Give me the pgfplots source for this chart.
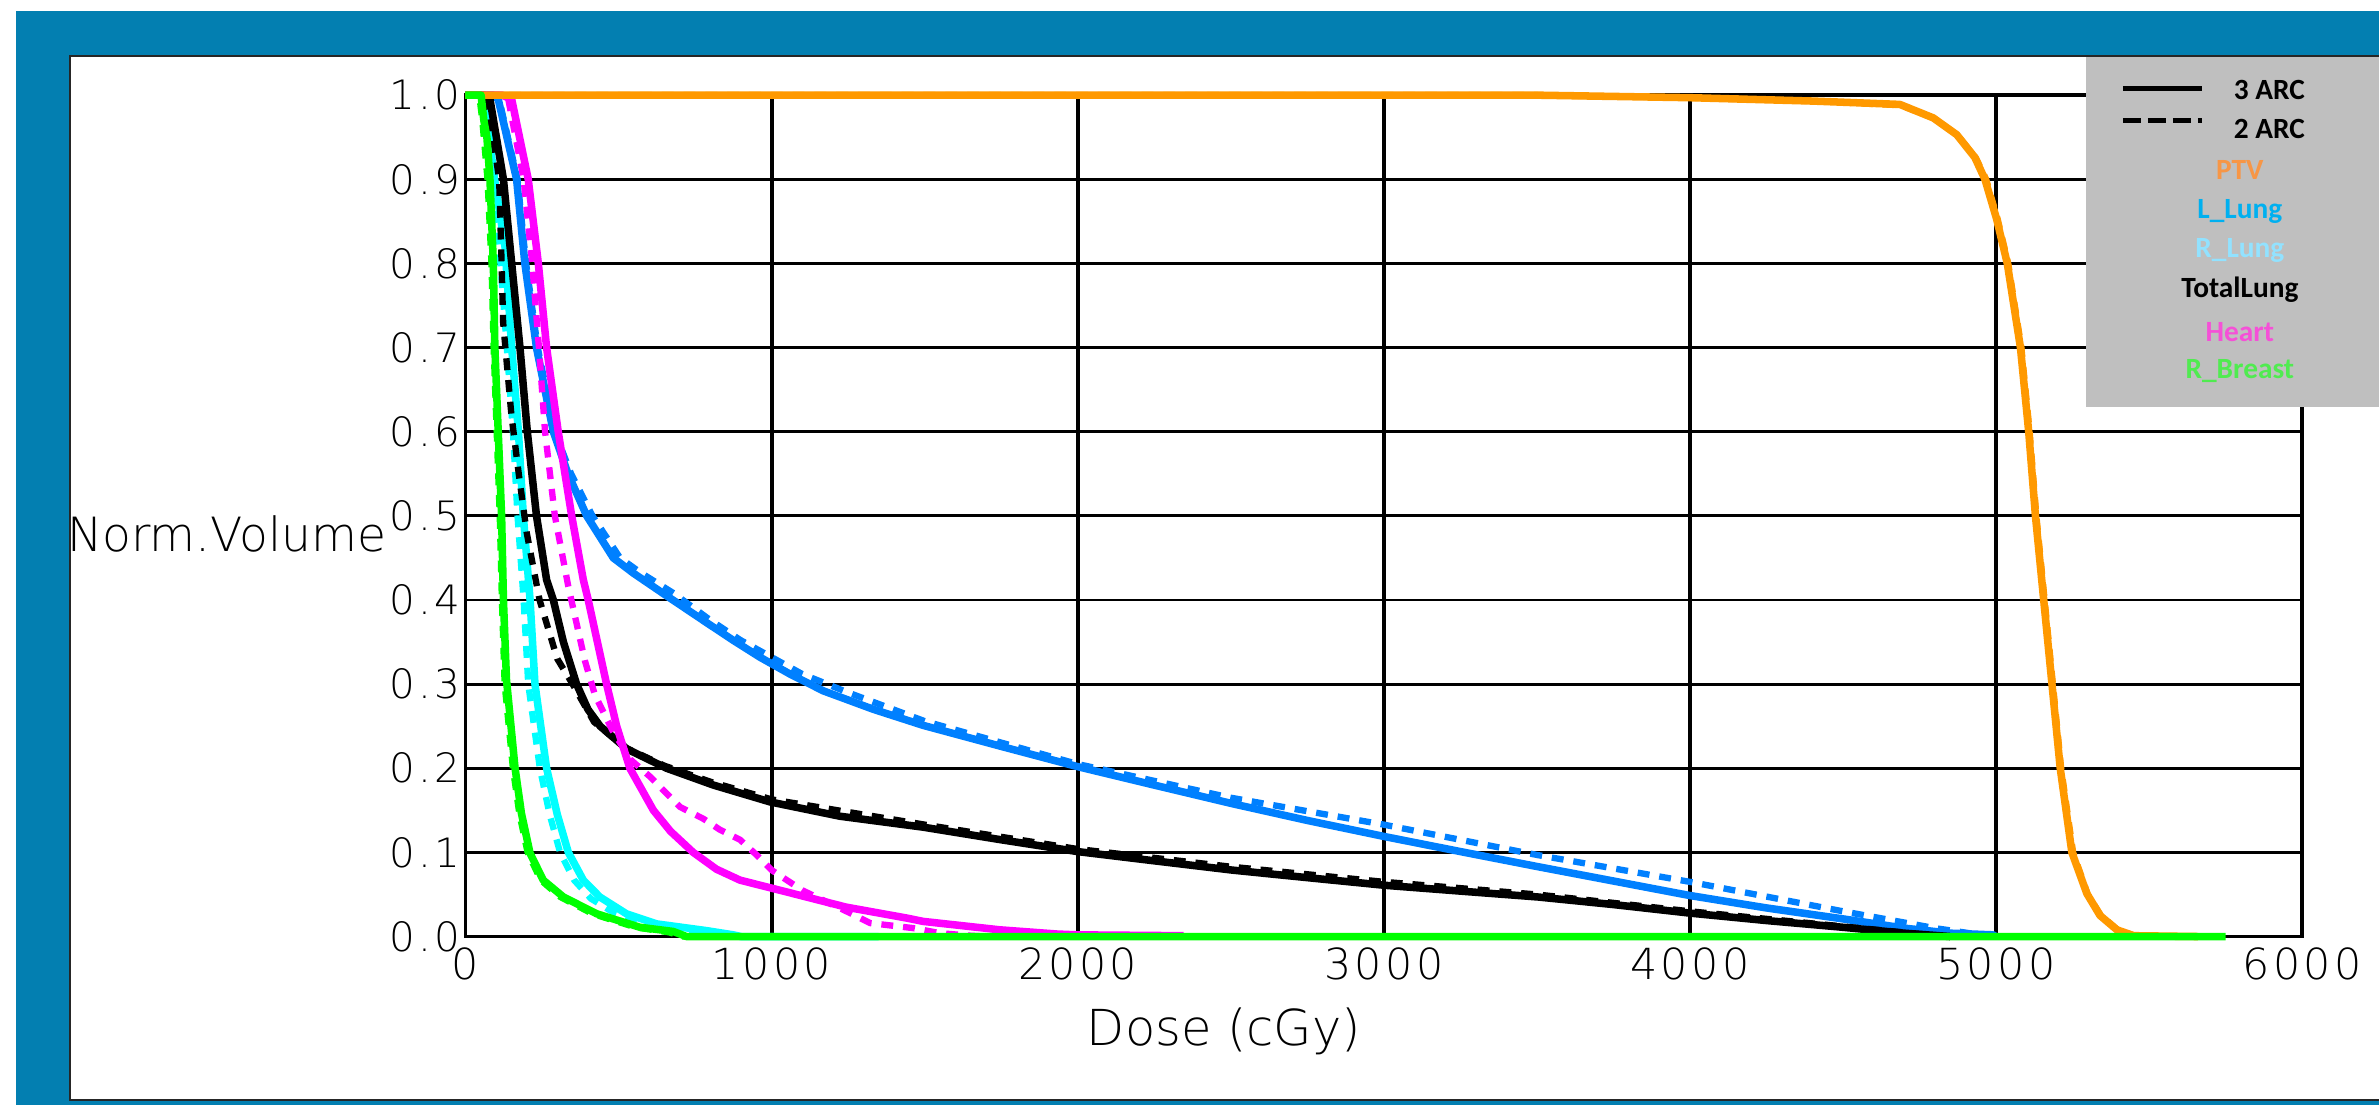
\documentclass[border=0pt]{standalone}
\usepackage{pgfplots}
\pgfplotsset{compat=1.18}
\usepackage{fontspec}
\setmainfont{DejaVu Sans ExtraLight}
\newfontfamily\tickfont[LetterSpace=8]{DejaVu Sans ExtraLight}
\newfontfamily\legfont{Carlito}
\definecolor{frameblue}{RGB}{3,127,177}
\definecolor{legbg}{RGB}{191,191,191}
\definecolor{cPTV}{RGB}{255,153,0}
\definecolor{cLL}{RGB}{0,128,255}
\definecolor{cRL}{RGB}{0,255,255}
\definecolor{cHeart}{RGB}{255,0,255}
\definecolor{cRB}{RGB}{0,255,0}
\definecolor{tPTV}{RGB}{247,150,70}
\definecolor{tLL}{RGB}{0,176,240}
\definecolor{tRL}{RGB}{146,226,255}
\definecolor{tHeart}{RGB}{245,80,215}
\definecolor{tRB}{RGB}{80,235,80}
\pgfplotsset{
  solidc/.style={line width=1.9pt, line join=round},
  dashc/.style={line width=1.6pt, dash pattern=on 3pt off 2.5pt},
}
\begin{document}
\begin{tikzpicture}
\path[use as bounding box] (-117.4pt,-42.5pt) rectangle (482.6pt,236.2pt);
\fill[frameblue] (-113.4pt,-42.5pt) rectangle (482.6pt,233.4pt);
\fill[white] (-99.7pt,-41.2pt) rectangle (482.6pt,222.1pt);
\draw[black!85, line width=0.6pt] (482.6pt,222.1pt) -- (-99.7pt,222.1pt) -- (-99.7pt,-41.2pt) -- (482.6pt,-41.2pt);
\begin{axis}[
  at={(0,0)}, anchor=south west,
  scale only axis, width=463.2pt, height=212.2pt,
  xmin=0, xmax=6000, ymin=0, ymax=1,
  clip=false,
  axis line style={black, line width=0.9pt},
  grid=major,
  major x grid style={black, line width=1.0pt},
  major y grid style={black, line width=0.7pt},
  major tick length=0pt,
  tick style={draw=none},
  xtick={0,1000,2000,3000,4000,5000,6000},
  xticklabels={0,1000,2000,3000,4000,5000,6000},
  ytick={0,0.1,0.2,0.3,0.4,0.5,0.6,0.7,0.8,0.9,1},
  yticklabels={0.0,0.1,0.2,0.3,0.4,0.5,0.6,0.7,0.8,0.9,1.0},
  xticklabel style={font=\tickfont\fontsize{10.8}{12}\selectfont, inner sep=2.6pt},
  yticklabel style={font=\tickfont\fontsize{10.2}{11}\selectfont, inner sep=1.2pt},
  xlabel={Dose (cGy)},
  ylabel={Norm.Volume},
  xlabel style={font=\fontsize{12.5}{14}\selectfont, at={(axis description cs:0.413,-0.113)}, anchor=center},
  ylabel style={font=\fontsize{11.9}{13}\selectfont, rotate=-90, inner sep=0pt, at={(axis description cs:-0.0427,0.478)}, anchor=east},
]
% L_Lung
\addplot[cLL, dashc] coordinates {(0,1) (90,1) (110,0.995) (170,0.9) (198,0.8) (236,0.7) (292,0.6) (345,0.55) (415,0.5) (505,0.45) (570,0.433) (680,0.408) (800,0.376) (900,0.352) (1000,0.332) (1100,0.312) (1250,0.29) (1500,0.256) (2000,0.205) (2500,0.165) (3000,0.133) (3500,0.097) (4000,0.065) (4500,0.03) (4800,0.01) (4950,0.002) (5000,0)};
\addplot[cLL, solidc] coordinates {(0,1) (90,1) (107,0.995) (167,0.9) (194,0.8) (232,0.7) (287,0.6) (335,0.55) (396,0.5) (483,0.45) (548,0.432) (657,0.405) (788,0.373) (875,0.352) (962,0.332) (1060,0.312) (1169,0.292) (1333,0.27) (1495,0.251) (1750,0.226) (1999,0.202) (2250,0.18) (2504,0.158) (2750,0.138) (3000,0.119) (3250,0.101) (3504,0.083) (3750,0.066) (3996,0.049) (4250,0.034) (4500,0.021) (4700,0.01) (4850,0.004) (4990,0.002) (5000,0)};
% R_Lung
\addplot[cRL, dashc] coordinates {(0,1) (45,1) (65,0.97) (88,0.9) (110,0.82) (135,0.7) (155,0.6) (170,0.5) (190,0.4) (205,0.3) (243,0.2) (275,0.145) (309,0.1) (355,0.067) (410,0.045) (490,0.027) (590,0.014) (740,0.006) (850,0.001) (880,0)};
\addplot[cRL, solidc] coordinates {(0,1) (50,1) (70,0.97) (95,0.9) (129,0.82) (151,0.7) (173,0.6) (189,0.5) (211,0.4) (227,0.3) (265,0.2) (300,0.145) (336,0.1) (385,0.067) (439,0.047) (526,0.027) (625,0.015) (788,0.007) (875,0.002) (900,0) (1350,0)};
% TotalLung
\addplot[black, dashc] coordinates {(0,1) (55,1) (72,0.995) (110,0.9) (118,0.8) (123,0.73) (150,0.62) (174,0.55) (200,0.48) (242,0.4) (300,0.33) (350,0.3) (420,0.255) (520,0.225) (650,0.203) (800,0.184) (1000,0.163) (1500,0.133) (2000,0.104) (2500,0.083) (3000,0.065) (3500,0.05) (4000,0.03) (4500,0.012) (4750,0.003) (4850,0)};
\addplot[black, solidc] coordinates {(0,1) (60,1) (80,0.995) (124,0.9) (151,0.8) (178,0.7) (202,0.6) (232,0.5) (265,0.424) (287,0.4) (320,0.35) (363,0.3) (400,0.27) (440,0.25) (527,0.223) (657,0.2) (810,0.18) (995,0.16) (1223,0.143) (1495,0.13) (1750,0.115) (1999,0.101) (2250,0.09) (2504,0.079) (2750,0.07) (3000,0.061) (3250,0.054) (3504,0.047) (3750,0.038) (3996,0.028) (4250,0.019) (4500,0.011) (4700,0.004) (4850,0)};
% Heart
\addplot[cHeart, dashc] coordinates {(0,1) (110,1) (140,0.995) (190,0.9) (218,0.8) (240,0.7) (260,0.6) (292,0.5) (336,0.416) (363,0.372) (390,0.328) (423,0.287) (480,0.245) (540,0.21) (603,0.19) (657,0.17) (701,0.154) (777,0.14) (831,0.127) (897,0.115) (951,0.097) (1000,0.079) (1100,0.055) (1256,0.028) (1322,0.016) (1463,0.01) (1550,0.004) (1650,0.001) (1700,0)};
\addplot[cHeart, solidc] coordinates {(0,1) (120,1) (151,0.995) (205,0.9) (238,0.8) (265,0.7) (303,0.6) (347,0.5) (385,0.424) (401,0.4) (461,0.3) (494,0.25) (537,0.2) (614,0.15) (670,0.125) (744,0.1) (820,0.08) (897,0.067) (1060,0.052) (1243,0.035) (1441,0.022) (1495,0.018) (1745,0.008) (1932,0.003) (2000,0.002) (2346,0.001)};
% PTV
\addplot[cPTV, dashc] coordinates {(0,1) (3500,1) (4000,0.997) (4400,0.993) (4690,0.988) (4800,0.972) (4875,0.952) (4935,0.925) (4968,0.9) (5006,0.852) (5040,0.8) (5083,0.7) (5110,0.6) (5132,0.5) (5159,0.4) (5186,0.3) (5213,0.2) (5252,0.1) (5300,0.05) (5343,0.025) (5398,0.008) (5452,0.001) (5660,0)};
\addplot[cPTV, solidc] coordinates {(0,1) (3500,1) (4000,0.997) (4400,0.993) (4686,0.989) (4795,0.973) (4872,0.953) (4931,0.926) (4964,0.9) (5002,0.853) (5037,0.8) (5080,0.7) (5107,0.6) (5129,0.5) (5156,0.4) (5183,0.3) (5210,0.2) (5248,0.1) (5297,0.051) (5340,0.025) (5395,0.008) (5450,0.001) (5660,0)};
% R_Breast
\addplot[cRB, dashc] coordinates {(0,1) (45,1) (55,0.97) (72,0.9) (85,0.8) (92,0.7) (102,0.6) (112,0.5) (119,0.4) (128,0.3) (155,0.2) (176,0.146) (203,0.1) (246,0.067) (310,0.047) (415,0.027) (555,0.011) (665,0.005) (710,0) (1300,0)};
\addplot[cRB, solidc] coordinates {(0,1) (51,1) (60,0.97) (70,0.95) (80,0.9) (91,0.8) (96,0.7) (107,0.6) (118,0.5) (124,0.4) (134,0.305) (162,0.2) (183,0.146) (211,0.099) (254,0.067) (320,0.047) (429,0.027) (570,0.011) (679,0.006) (722,0) (5750,0)};
\end{axis}
% legend box
\fill[legbg] (408.7pt,133.6pt) rectangle (482.6pt,221.8pt);
\draw[black, line width=1.4pt] (418.0pt,213.9pt) -- (438.0pt,213.9pt);
\draw[black, line width=1.3pt, dash pattern=on 4.6pt off 1.7pt] (418.0pt,205.9pt) -- (438.0pt,205.9pt);
\begin{scope}[every node/.style={font=\legfont\bfseries\fontsize{7.4}{8}\selectfont, inner sep=0pt}]
\node[anchor=west] at (445.8pt,213.5pt) {3 ARC};
\node[anchor=west] at (445.8pt,203.7pt) {2 ARC};
\node[text=tPTV] at (447.5pt,193.3pt) {PTV};
\node[text=tLL] at (447.5pt,182.8pt) {L\_Lung};
\node[text=tRL] at (447.5pt,173.1pt) {R\_Lung};
\node[text=black] at (447.5pt,163.1pt) {TotalLung};
\node[text=tHeart] at (447.5pt,152.5pt) {Heart};
\node[text=tRB] at (447.5pt,142.5pt) {R\_Breast};
\end{scope}
\end{tikzpicture}
\end{document}
